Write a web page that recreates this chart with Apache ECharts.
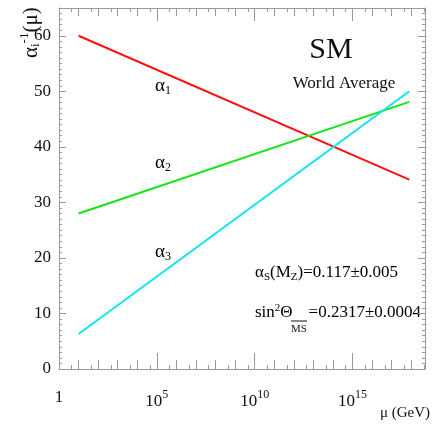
<!DOCTYPE html>
<html>
<head>
<meta charset="utf-8">
<script src="https://cdn.jsdelivr.net/npm/echarts@6/dist/echarts.min.js"></script>
<style>
html, body { margin: 0; padding: 0; background: #fff; }
#box { width: 437px; height: 429px; }
</style>
</head>
<body>
<div id="box"></div>
<script>
var dom = document.getElementById("box");
var myChart = echarts.init(dom);

// log10(mu / GeV) at both ends of the lines
var logMu = [1.0, 17.9];
// inverse couplings
var alpha1Inv = [60.0, 34.1];
var alpha2Inv = [28.0, 48.1];
var alpha3Inv = [6.3, 50.0];
var lineNames = ['α1', 'α2', 'α3'];
var lineColors = ['#ff1010', '#14e614', '#10e4f2'];

var xMin = 0, xMax = 18.7;
var yMin = 0, yMax = 65;

var serif = 'Liberation Serif';
var axisGrey = '#9a9a9a';

function pairs(xs, ys) {
    var res = [];
    for (var i = 0; i < xs.length; i++) res.push([xs[i], ys[i]]);
    return res;
}

function xLabel(v) {
    if (v === 0) return '{n|1}';
    return '{n|10}{s|' + v + '}';
}

// small in-between ticks on the mu axis
var halfTicks = [];
for (var k = 0; k + 0.65 < xMax; k++) halfTicks.push(k + 0.65);

function xAxisCfg(pos, showLabel, majorLen, minorLen) {
    return {
        type: 'value', position: pos, min: xMin, max: xMax, interval: 5,
        axisLine: { show: true, onZero: false, lineStyle: { color: axisGrey, width: 1 } },
        splitLine: { show: false },
        axisTick: { show: true, inside: true, length: majorLen, lineStyle: { color: axisGrey } },
        minorTick: { show: true, splitNumber: 5, length: minorLen, lineStyle: { color: axisGrey } },
        axisLabel: showLabel ? {
            margin: 20, showMaxLabel: false,
            formatter: xLabel,
            rich: {
                n: { fontFamily: serif, fontSize: 17, color: '#111' },
                s: { fontFamily: serif, fontSize: 12, color: '#111', padding: [0, 0, 13, 0] }
            }
        } : { show: false }
    };
}

function halfAxisCfg(pos) {
    return {
        type: 'value', position: pos, min: xMin, max: xMax,
        axisLine: { show: false, onZero: false },
        splitLine: { show: false },
        axisTick: { show: true, inside: true, length: 4, customValues: halfTicks, lineStyle: { color: axisGrey } },
        axisLabel: { show: false }
    };
}

function yAxisCfg(pos, showLabel) {
    return {
        type: 'value', position: pos, min: yMin, max: yMax, interval: 10,
        axisLine: { show: true, onZero: false, lineStyle: { color: axisGrey, width: 1 } },
        splitLine: { show: false },
        axisTick: { show: true, inside: true, length: 7, lineStyle: { color: axisGrey } },
        minorTick: { show: true, splitNumber: 10, length: 3, lineStyle: { color: axisGrey } },
        axisLabel: showLabel ? { margin: 8, showMaxLabel: false, fontFamily: serif, fontSize: 17, color: '#111' } : { show: false }
    };
}

option = {
    backgroundColor: '#fff',
    animation: false,
    grid: { left: 59, right: 12, top: 8, bottom: 60, containLabel: false },
    xAxis: [
        xAxisCfg('bottom', true, 16, 9),
        xAxisCfg('top', false, 13, 8),
        halfAxisCfg('bottom'),
        halfAxisCfg('top')
    ],
    yAxis: [yAxisCfg('left', true), yAxisCfg('right', false)],
    series: [
        { name: lineNames[0], type: 'line', data: pairs(logMu, alpha1Inv), showSymbol: false, lineStyle: { color: lineColors[0], width: 2 } },
        { name: lineNames[1], type: 'line', data: pairs(logMu, alpha2Inv), showSymbol: false, lineStyle: { color: lineColors[1], width: 2 } },
        { name: lineNames[2], type: 'line', data: pairs(logMu, alpha3Inv), showSymbol: false, lineStyle: { color: lineColors[2], width: 2 } }
    ],
    graphic: [
        // y axis title, rotated
        {
            type: 'text', x: 31, y: 58, rotation: Math.PI / 2,
            style: {
                text: '{a|α}{b|i}{c|-1}{a|(μ)}',
                textAlign: 'left', textVerticalAlign: 'middle', fill: '#111',
                rich: {
                    a: { fontFamily: serif, fontSize: 21, color: '#111' },
                    b: { fontFamily: serif, fontSize: 13, color: '#111', padding: [9, 0, 0, 0] },
                    c: { fontFamily: serif, fontSize: 13, color: '#111', padding: [0, 0, 12, 0] }
                }
            }
        },
        // x axis title
        {
            type: 'text', x: 430, y: 413,
            style: { text: 'μ (GeV)', textAlign: 'right', textVerticalAlign: 'middle', font: '15px "Liberation Serif"', fill: '#111' }
        },
        {
            type: 'text', x: 331, y: 50,
            style: { text: 'SM', textAlign: 'center', textVerticalAlign: 'middle', font: '30px "Liberation Serif"', fill: '#111' }
        },
        {
            type: 'text', x: 344, y: 84,
            style: { text: 'World Average', textAlign: 'center', textVerticalAlign: 'middle', font: '17px "Liberation Serif"', fill: '#111' }
        },
        {
            type: 'text', x: 155, y: 86,
            style: {
                text: '{a|α}{b|1}', textAlign: 'left', textVerticalAlign: 'middle',
                rich: { a: { fontFamily: serif, fontSize: 19, color: lineColors[0] }, b: { fontFamily: serif, fontSize: 12, color: lineColors[0], padding: [10, 0, 0, 0] } }
            }
        },
        {
            type: 'text', x: 155, y: 163,
            style: {
                text: '{a|α}{b|2}', textAlign: 'left', textVerticalAlign: 'middle',
                rich: { a: { fontFamily: serif, fontSize: 19, color: lineColors[1] }, b: { fontFamily: serif, fontSize: 12, color: lineColors[1], padding: [10, 0, 0, 0] } }
            }
        },
        {
            type: 'text', x: 155, y: 252,
            style: {
                text: '{a|α}{b|3}', textAlign: 'left', textVerticalAlign: 'middle',
                rich: { a: { fontFamily: serif, fontSize: 19, color: lineColors[2] }, b: { fontFamily: serif, fontSize: 12, color: lineColors[2], padding: [10, 0, 0, 0] } }
            }
        },
        {
            type: 'text', x: 255, y: 273,
            style: {
                text: '{a|α}{b|S}{a|(M}{b|Z}{a|)=0.117±0.005}', textAlign: 'left', textVerticalAlign: 'middle',
                rich: { a: { fontFamily: serif, fontSize: 17, color: '#111' }, b: { fontFamily: serif, fontSize: 11, color: '#111', padding: [9, 0, 0, 0] } }
            }
        },
        {
            type: 'text', x: 255, y: 313,
            style: {
                text: '{a|sin}{c|2}{a|Θ}{g|}{a|=0.2317±0.0004}', textAlign: 'left', textVerticalAlign: 'middle',
                rich: {
                    a: { fontFamily: serif, fontSize: 17, color: '#111' },
                    c: { fontFamily: serif, fontSize: 11, color: '#111', padding: [0, 0, 10, 0] },
                    g: { width: 16 }
                }
            }
        },
        {
            type: 'text', x: 291, y: 329,
            style: { text: 'MS', textAlign: 'left', textVerticalAlign: 'middle', font: '11px "Liberation Serif"', fill: '#111' }
        },
        {
            type: 'line', shape: { x1: 291, y1: 321, x2: 307, y2: 321 },
            style: { stroke: '#111', lineWidth: 1 }
        }
    ]
};

if (option && typeof option === "object") {
    myChart.setOption(option, true);
}
</script>
</body>
</html>
